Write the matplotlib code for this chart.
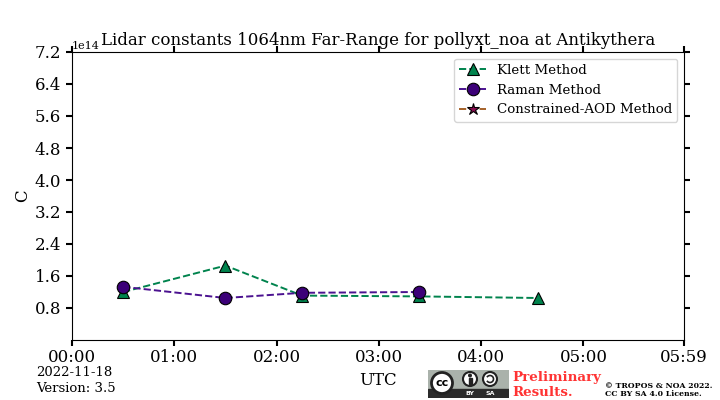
import matplotlib
matplotlib.use("Agg")
import matplotlib.pyplot as plt
from matplotlib.patches import Rectangle, Circle, Arc

plt.rcParams['font.family'] = 'DejaVu Serif'

klett_hours = [0.5, 1.5, 2.25, 3.395, 4.56]
klett_values = [1.2e14, 1.86e14, 1.11e14, 1.09e14, 1.05e14]
raman_hours = [0.5, 1.5, 2.25, 3.395]
raman_values = [1.33e14, 1.05e14, 1.18e14, 1.2e14]
caod_hours = []
caod_values = []
x_tick_hours = [0, 1, 2, 3, 4, 5, 359 / 60]
x_tick_labels = ['00:00', '01:00', '02:00', '03:00', '04:00', '05:00', '05:59']
y_ticks = [0.8e14, 1.6e14, 2.4e14, 3.2e14, 4.0e14, 4.8e14, 5.6e14, 6.4e14, 7.2e14]

fig = plt.figure(figsize=(7.2, 4), dpi=100)
ax = fig.add_axes([72 / 720, 1 - 340 / 400, 612 / 720, 288 / 400])

ax.plot(klett_hours, klett_values, '--', color='#00834d', lw=1.4, marker='^', ms=9,
        mfc='#00834d', mec='black', mew=0.8, label='Klett Method', zorder=3)
ax.plot(raman_hours, raman_values, '--', color='#4b1290', lw=1.4, marker='o', ms=9,
        mfc='#3c0078', mec='black', mew=0.8, label='Raman Method', zorder=4)
ax.plot(caod_hours, caod_values, '--', color='#a5622a', lw=1.4, marker='*', ms=9,
        mfc='#8a0a50', mec='black', mew=0.8, label='Constrained-AOD Method', zorder=5)

ax.set_xlim(0, 359 / 60)
ax.set_ylim(0, 7.2e14)
ax.set_xticks(x_tick_hours)
ax.set_xticklabels(x_tick_labels)
ax.set_yticks(y_ticks)
ax.set_yticklabels([f'{v / 1e14:.1f}' for v in y_ticks])
ax.tick_params(axis='both', which='major', labelsize=12, length=4.5, width=1.5,
               top=True, right=True, direction='out')
ax.tick_params(axis='x', pad=2)
ax.tick_params(axis='y', pad=3.5)
ax.set_xlabel('UTC', fontsize=12, labelpad=4)
ax.set_ylabel('C', fontsize=12, labelpad=2)
ax.set_title('Lidar constants 1064nm Far-Range for pollyxt_noa at Antikythera', fontsize=12, pad=5)
ax.text(0, 1.003, '1e14', transform=ax.transAxes, fontsize=8, va='bottom', ha='left')
ax.legend(loc='upper right', fontsize=9.6, handlelength=2, framealpha=0.8)

fig.text(36 / 720, 1 - 372 / 400, '2022-11-18', fontsize=9.5, va='center')
fig.text(36 / 720, 1 - 388 / 400, 'Version: 3.5', fontsize=9.5, va='center')

# licence badge
logo = fig.add_axes([428 / 720, 1 - 398 / 400, 81 / 720, 28 / 400])
logo.set_xlim(0, 81)
logo.set_ylim(28, 0)
logo.axis('off')
logo.add_patch(Rectangle((0, 0), 81, 28, color='#aab2ab'))
logo.add_patch(Rectangle((0, 19), 81, 9, color='#2b2b2b'))
logo.add_patch(Circle((14, 13), 10.5, fc='white', ec='#222222', lw=2))
logo.text(14, 13.5, 'cc', fontsize=8, fontweight='bold', ha='center', va='center', family='DejaVu Sans')
for cx in (42, 62):
    logo.add_patch(Circle((cx, 9), 7, fc='white', ec='#222222', lw=1.5))
logo.add_patch(Circle((42, 5.5), 1.3, color='#222222'))
logo.add_patch(Rectangle((40.5, 7.5), 3, 6.5, color='#222222'))
logo.add_patch(Arc((62, 9), 7, 7, theta1=-150, theta2=150, color='#222222', lw=1.2))
logo.text(42, 23.5, 'BY', fontsize=4.5, fontweight='bold', color='white', ha='center', va='center', family='DejaVu Sans')
logo.text(62, 23.5, 'SA', fontsize=4.5, fontweight='bold', color='white', ha='center', va='center', family='DejaVu Sans')

fig.text(512 / 720, 1 - 377 / 400, 'Preliminary', fontsize=9.6, fontweight='bold', color='#ff3333', va='center')
fig.text(512 / 720, 1 - 392 / 400, 'Results.', fontsize=9.6, fontweight='bold', color='#ff3333', va='center')
fig.text(605 / 720, 1 - 385.5 / 400, '© TROPOS & NOA 2022.', fontsize=5.6, fontweight='bold', va='center')
fig.text(605 / 720, 1 - 394.5 / 400, 'CC BY SA 4.0 License.', fontsize=5.6, fontweight='bold', va='center')

fig.savefig('out.png', dpi=100)
